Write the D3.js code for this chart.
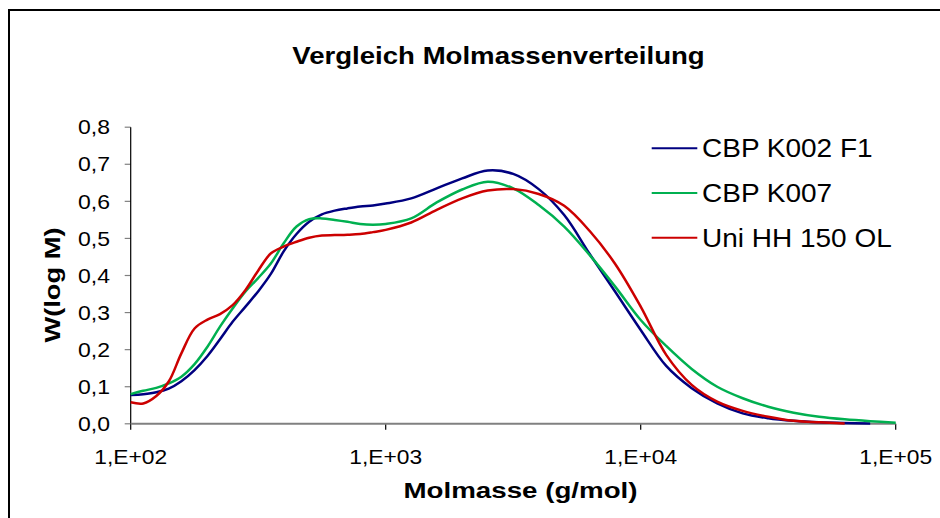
<!DOCTYPE html>
<html>
<head>
<meta charset="utf-8">
<script src="https://cdn.jsdelivr.net/npm/d3@7"></script>
<style>
  html, body { margin: 0; padding: 0; background: #fff; }
  svg { display: block; }
  text { font-family: "Liberation Sans", Arial, sans-serif; fill: #000; }
</style>
</head>
<body>
<svg id="chart" width="940" height="518"></svg>
<script>
// ---------------- data ----------------
const molmasse = [100, 112, 126, 141, 158, 178, 200, 224, 251, 282, 316, 355, 398, 447, 501, 562, 631, 708, 794, 891,
  1000, 1259, 1585, 1995, 2512, 3162, 3981, 5012, 6310, 7943,
  10000, 12589, 15849, 19953, 25119, 31623, 39811, 50119, 63096, 79433, 100000];

const cbpK002F1 = [0.078, 0.080, 0.085, 0.095, 0.115, 0.145, 0.183, 0.228, 0.275, 0.316, 0.357, 0.405, 0.465, 0.512, 0.545, 0.565, 0.575, 0.581, 0.586, 0.589,
  0.594, 0.608, 0.635, 0.662, 0.683, 0.674, 0.633, 0.563, 0.458, 0.356,
  0.253, 0.156, 0.096, 0.055, 0.028, 0.015, 0.008, 0.004, 0.002, 0.001, null];

const cbpK007 = [0.080, 0.089, 0.097, 0.109, 0.127, 0.161, 0.208, 0.262, 0.311, 0.357, 0.393, 0.433, 0.487, 0.532, 0.552, 0.554, 0.550, 0.545, 0.539, 0.537,
  0.539, 0.554, 0.597, 0.632, 0.653, 0.635, 0.590, 0.532, 0.455, 0.370,
  0.280, 0.210, 0.148, 0.100, 0.069, 0.046, 0.030, 0.019, 0.012, 0.007, 0.003];

const uniHH150OL = [0.058, 0.055, 0.075, 0.114, 0.190, 0.257, 0.281, 0.296, 0.320, 0.361, 0.413, 0.460, 0.478, 0.491, 0.502, 0.508, 0.509, 0.510, 0.512, 0.517,
  0.523, 0.543, 0.577, 0.608, 0.629, 0.633, 0.620, 0.588, 0.520, 0.431,
  0.316, 0.186, 0.105, 0.060, 0.035, 0.019, 0.008, 0.004, 0.001, null, null];

const seriesNames = ["CBP K002 F1", "CBP K007", "Uni HH 150 OL"];
const seriesValues = [cbpK002F1, cbpK007, uniHH150OL];
const seriesColors = ["#000080", "#00B050", "#CC0000"];

const yTickValues = [0, 0.1, 0.2, 0.3, 0.4, 0.5, 0.6, 0.7, 0.8];
const xTickValues = [100, 1000, 10000, 100000];
const xTickLabels = ["1,E+02", "1,E+03", "1,E+04", "1,E+05"];

const titleText = "Vergleich Molmassenverteilung";
const xTitle = "Molmasse (g/mol)";
const yTitle = "W(log M)";

// ---------------- drawing ----------------
const svg = d3.select("#chart");

// outer chart border
svg.append("rect")
  .attr("x", 9).attr("y", 10).attr("width", 940).attr("height", 520)
  .attr("fill", "none").attr("stroke", "#000").attr("stroke-width", 2);

const x = d3.scaleLog().domain([100, 100000]).range([130.7, 895.7]);
const y = d3.scaleLinear().domain([0, 0.8]).range([423.8, 127.2]);

function label(txt, px, py, size, weight, anchor, sx, rot) {
  return svg.append("text")
    .attr("transform", `translate(${px},${py}) rotate(${rot || 0}) scale(${sx},1)`)
    .attr("text-anchor", anchor)
    .attr("font-size", size)
    .attr("font-weight", weight)
    .text(txt);
}

// y axis
const yAxis = svg.append("g");
yAxis.selectAll("line.tick").data(yTickValues).enter().append("line")
  .attr("x1", x(100) - 6).attr("x2", x(100))
  .attr("y1", d => y(d)).attr("y2", d => y(d))
  .attr("stroke", "#808080").attr("stroke-width", 1.2);
yAxis.append("line")
  .attr("x1", x(100)).attr("x2", x(100))
  .attr("y1", y(0.8)).attr("y2", y(0))
  .attr("stroke", "#000").attr("stroke-width", 1.2);
yTickValues.forEach(v => {
  label(d3.format(".1f")(v).replace(".", ","), 110, y(v) + 7.2, 20, "normal", "end", 1.15);
});

// x axis
const xAxis = svg.append("g");
xAxis.selectAll("line.tick").data(xTickValues).enter().append("line")
  .attr("x1", d => x(d)).attr("x2", d => x(d))
  .attr("y1", y(0)).attr("y2", y(0) + 6)
  .attr("stroke", "#000").attr("stroke-width", 1.2);
xAxis.append("line")
  .attr("x1", x(100)).attr("x2", x(100000))
  .attr("y1", y(0)).attr("y2", y(0))
  .attr("stroke", "#808080").attr("stroke-width", 2);
xTickValues.forEach((v, i) => {
  label(xTickLabels[i], x(v), 463.5, 20, "normal", "middle", 1.14);
});

// series
const line = d3.line()
  .defined(d => d[1] !== null)
  .x(d => x(d[0]))
  .y(d => y(d[1]))
  .curve(d3.curveCatmullRom.alpha(0.5));

seriesValues.forEach((vals, i) => {
  const pts = molmasse.map((m, j) => [m, vals[j]]);
  svg.append("path")
    .datum(pts)
    .attr("d", line)
    .attr("fill", "none")
    .attr("stroke", seriesColors[i])
    .attr("stroke-width", 2.5)
    .attr("stroke-linejoin", "round");
});

// legend
seriesNames.forEach((name, i) => {
  const ly = 148.3 + i * 44.7;
  svg.append("line")
    .attr("x1", 651.7).attr("x2", 697.3)
    .attr("y1", ly).attr("y2", ly)
    .attr("stroke", seriesColors[i]).attr("stroke-width", 2);
  label(name, 702, ly + 8.8, 25, "normal", "start", 1.12);
});

// titles
label(titleText, 498.5, 63.5, 23, "bold", "middle", 1.2);
label(xTitle, 520.5, 498.3, 22, "bold", "middle", 1.26);
label(yTitle, 60, 285, 22, "bold", "middle", 1.24, -90);
</script>
</body>
</html>
